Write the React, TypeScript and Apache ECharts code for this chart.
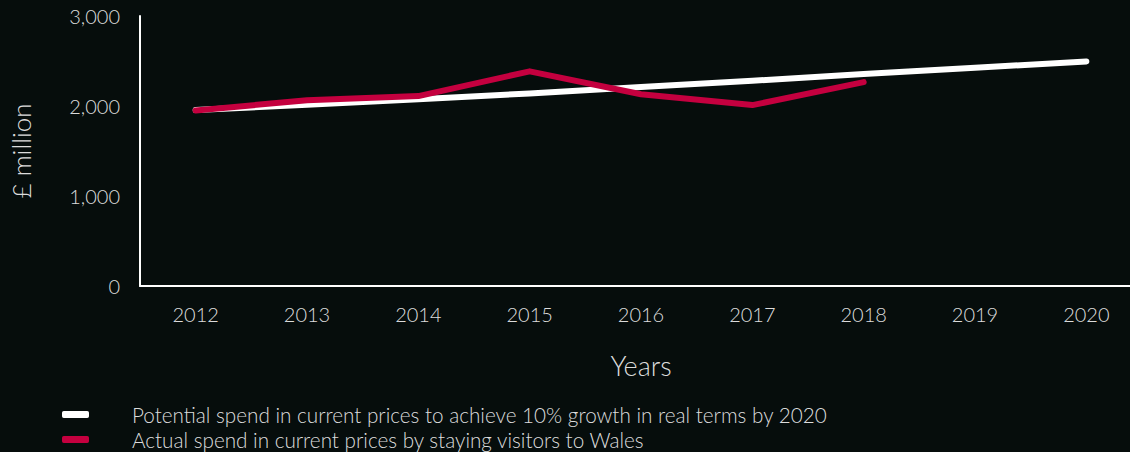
import React, { useEffect, useRef } from "react";
import * as echarts from "echarts";

const years = ["2012", "2013", "2014", "2015", "2016", "2017", "2018", "2019", "2020"];
const potential = [1955, 2015, 2075, 2140, 2210, 2280, 2355, 2425, 2495];
const actual = [1950, 2065, 2110, 2385, 2130, 2010, 2265, null, null];
const yTicks = [0, 1000, 2000, 3000];
const potentialName = "Potential spend in current prices to achieve 10% growth in real terms by 2020";
const actualName = "Actual spend in current prices by staying visitors to Wales";

const FONT = "Lato, 'Open Sans', sans-serif";
const TXT = "#dcdcdc";
const RED = "#c4003f";

const legendBase = {
  orient: "horizontal",
  left: 62,
  padding: 0,
  itemWidth: 27,
  itemHeight: 7,
  icon: "roundRect",
  textStyle: { color: TXT, fontSize: 20.7, fontWeight: 300, fontFamily: FONT, padding: [0, 0, 0, 38], lineHeight: 20 },
};

export default function App() {
  const ref = useRef<HTMLDivElement>(null);
  useEffect(() => {
    const chart = echarts.init(ref.current!, null, { renderer: "svg" });
    chart.setOption({
      animation: false,
      backgroundColor: "#060d0c",
      textStyle: { fontFamily: FONT },
      grid: { left: 139, width: 1003, top: 16, bottom: 166, containLabel: false },
      legend: [
        { ...legendBase, top: 404, data: [{ name: potentialName, itemStyle: { color: "#ffffff" } }] },
        { ...legendBase, top: 429, data: [{ name: actualName, itemStyle: { color: RED } }] },
      ],
      xAxis: {
        type: "category",
        data: years,
        boundaryGap: true,
        name: "Years",
        nameLocation: "middle",
        nameGap: 66,
        nameTextStyle: { color: TXT, fontSize: 27, fontWeight: 300, fontFamily: FONT },
        axisLine: { lineStyle: { color: "#ffffff", width: 2 } },
        axisTick: { inside: true, length: 9, alignWithLabel: true, lineStyle: { color: "#ffffff", width: 2 } },
        axisLabel: { color: TXT, fontSize: 20, fontWeight: 300, margin: 18, fontFamily: FONT },
        splitLine: { show: false },
      },
      yAxis: {
        type: "value",
        min: yTicks[0],
        max: yTicks[yTicks.length - 1],
        interval: 1000,
        name: "£ million",
        nameLocation: "middle",
        nameGap: 106,
        nameRotate: 90,
        nameTextStyle: { color: TXT, fontSize: 26, fontWeight: 300, fontFamily: FONT },
        axisLine: { show: true, lineStyle: { color: "#ffffff", width: 2 } },
        axisTick: { show: false },
        axisLabel: {
          color: TXT,
          fontSize: 20,
          fontWeight: 300,
          margin: 20,
          fontFamily: FONT,
          formatter: (v: number) => v.toLocaleString("en-GB"),
        },
        splitLine: { show: false },
      },
      series: [
        {
          name: potentialName,
          type: "line",
          data: potential,
          showSymbol: false,
          symbol: "none",
          lineStyle: { color: "#ffffff", width: 6, cap: "round", join: "round" },
          itemStyle: { color: "#ffffff" },
        },
        {
          name: actualName,
          type: "line",
          data: actual,
          showSymbol: false,
          symbol: "none",
          lineStyle: { color: RED, width: 6, cap: "round", join: "round" },
          itemStyle: { color: RED },
        },
      ],
    });
    return () => chart.dispose();
  }, []);
  return (
    <div
      style={{
        position: "fixed",
        left: 0,
        top: 0,
        width: 1130,
        height: 452,
        overflow: "hidden",
        background: "#060d0c",
      }}
    >
      <div ref={ref} style={{ width: 1145, height: 452 }} />
    </div>
  );
}
